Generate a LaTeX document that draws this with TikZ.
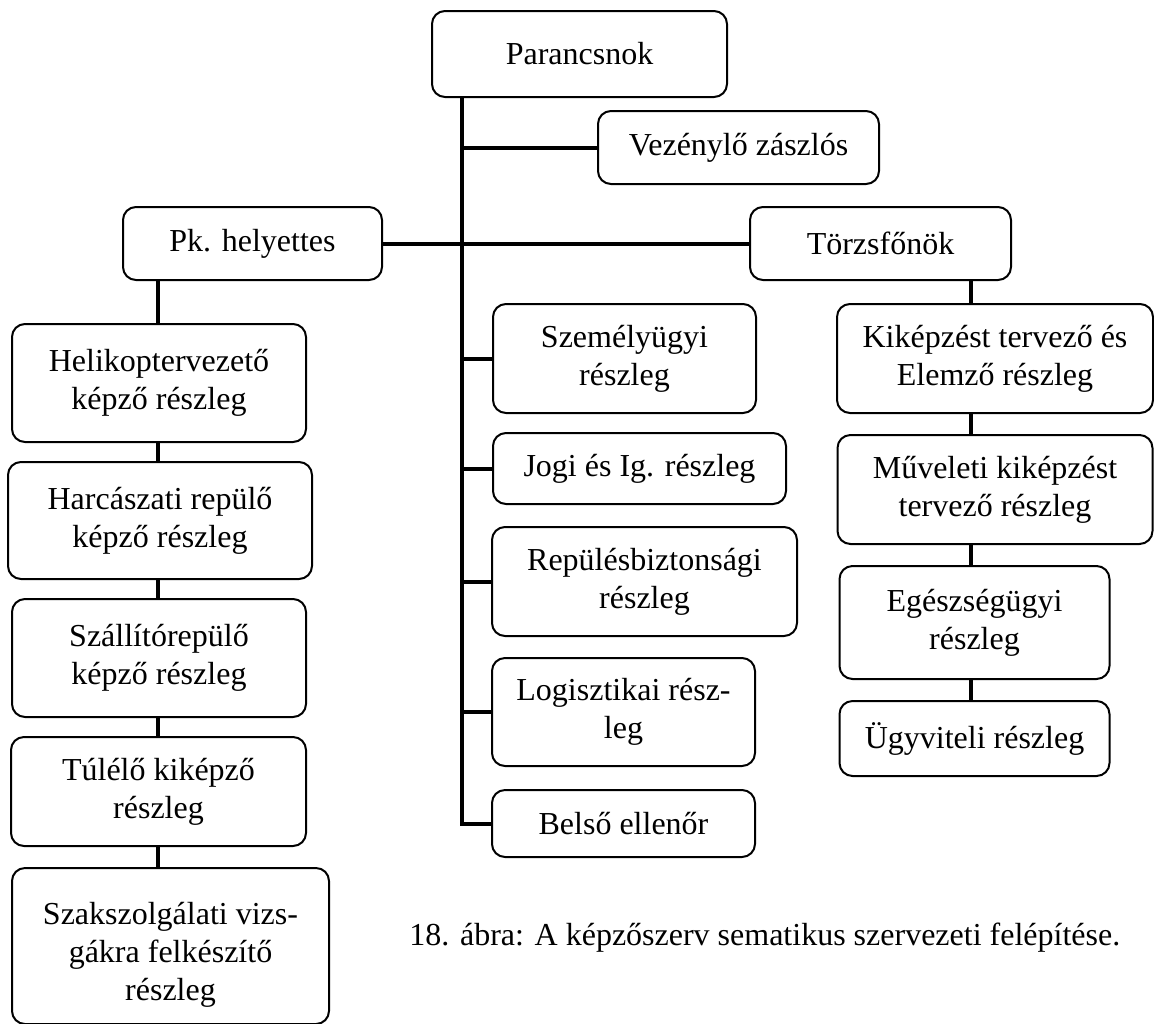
\documentclass[tikz,border=0pt]{standalone}
\usepackage{fontspec}
\setmainfont{Liberation Serif}
\begin{document}
\begin{tikzpicture}[x=0.5pt,y=-0.5pt,
  box/.style={draw, line width=1pt, rounded corners=6.5pt, fill=white,
    inner sep=0pt, align=center, font=\fontsize{16}{19}\selectfont},
  bx/.style 2 args={minimum width=#1*0.5pt, minimum height=#2*0.5pt},
  conn/.style={line width=2pt}]
\useasboundingbox (0,0) rectangle (1154,1023);
% top
\node[box, bx={295}{86}] (par) at (579.5,54) {Parancsnok};
\node[box, bx={281}{73}] (vez) at (738.5,147.5) {Vezénylő zászlós};
\node[box, bx={259}{73}] (pk) at (252.5,243.5) {Pk. helyettes};
\node[box, bx={261}{73}] (tf) at (880.5,243.5) {Törzsfőnök};
% left column
\node[box, bx={294}{118}] (hel) at (159,383) {Helikoptervezető\\képző részleg};
\node[box, bx={304}{117}] (har) at (160,520.5) {Harcászati repülő\\képző részleg};
\node[box, bx={294}{118}] (sza) at (159,658) {Szállítórepülő\\képző részleg};
\node[box, bx={295}{109}] (tul) at (158.5,791.5) {Túlélő kiképző\\részleg};
\node[box, bx={317}{156}] (szk) at (170.5,946) {\raisebox{-4.5pt}[\height][\depth]{\begin{tabular}{@{}c@{}}Szakszolgálati vizs-\\gákra felkészítő\\részleg\end{tabular}}};
% middle column
\node[box, bx={263}{109}] (sze) at (624.5,358.5) {Személyügyi\\részleg};
\node[box, bx={293}{71}] (jog) at (639.5,468.5) {Jogi és Ig. részleg};
\node[box, bx={305}{109}] (rep) at (644.5,581.5) {Repülésbiztonsági\\részleg};
\node[box, bx={263}{108}] (log) at (623.5,712) {Logisztikai rész-\\leg};
\node[box, bx={263}{67}] (bel) at (623.5,823.5) {Belső ellenőr};
% right column
\node[box, bx={316}{109}] (kik) at (995,358.5) {Kiképzést tervező és\\Elemző részleg};
\node[box, bx={315}{109}] (mue) at (995,489.5) {Műveleti kiképzést\\tervező részleg};
\node[box, bx={270}{113}] (ege) at (974.5,622.5) {Egészségügyi\\részleg};
\node[box, bx={270}{75}] (ugy) at (974.5,738.5) {Ügyviteli részleg};
% caption
\node[anchor=base west, inner sep=0pt, font=\fontsize{16}{19}\selectfont] (cap) at (409,945)
  {18. ábra: A képzőszerv sematikus szervezeti felépítése.};
% connector x positions
\coordinate (tk) at (462,0);
\coordinate (lc) at (158,0);
\coordinate (rc) at (971,0);
% trunk
\draw[conn] (par.south -| tk) -- (bel.west -| tk) -- (bel.west);
\draw[conn] (vez.west -| tk) -- (vez.west);
\draw[conn] (pk.east) -- (tf.west);
\draw[conn] (sze.west -| tk) -- (sze.west);
\draw[conn] (jog.west -| tk) -- (jog.west);
\draw[conn] (rep.west -| tk) -- (rep.west);
\draw[conn] (log.west -| tk) -- (log.west);
% left column
\draw[conn] (pk.south -| lc) -- (hel.north -| lc);
\draw[conn] (hel.south -| lc) -- (har.north -| lc);
\draw[conn] (har.south -| lc) -- (sza.north -| lc);
\draw[conn] (sza.south -| lc) -- (tul.north -| lc);
\draw[conn] (tul.south -| lc) -- (szk.north -| lc);
% right column
\draw[conn] (tf.south -| rc) -- (kik.north -| rc);
\draw[conn] (kik.south -| rc) -- (mue.north -| rc);
\draw[conn] (mue.south -| rc) -- (ege.north -| rc);
\draw[conn] (ege.south -| rc) -- (ugy.north -| rc);
\end{tikzpicture}
\end{document}
